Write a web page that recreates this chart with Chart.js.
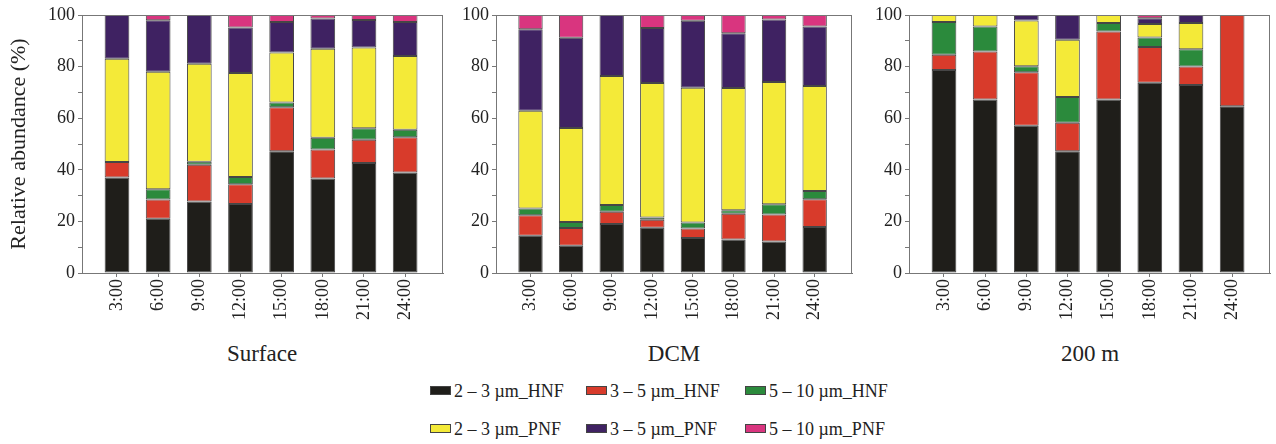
<!DOCTYPE html>
<html>
<head>
<meta charset="utf-8">
<script src="https://cdn.jsdelivr.net/npm/chart.js@4.4.1/dist/chart.umd.min.js"></script>
<style>
  body { margin: 0; background: #fff; }
  #wrap { position: relative; width: 1276px; height: 444px; background: #fff; font-family: "Liberation Serif", "DejaVu Serif", serif; color: #222; }
  .panel { position: absolute; top: 0; height: 340px; }
  .ptitle { position: absolute; top: 341px; font-size: 23px; text-align: center; width: 200px; }
  .leg { position: absolute; font-size: 18px; white-space: nowrap; }
  .leg i { display: inline-block; width: 19px; height: 7px; border: 1px solid #444; vertical-align: middle; margin-right: 3px; position: relative; top: -2px; }
</style>
</head>
<body>
<div id="wrap">
  <div class="panel" style="left:0;width:446px"><canvas id="c1"></canvas></div>
  <div class="panel" style="left:455px;width:400px"><canvas id="c2"></canvas></div>
  <div class="panel" style="left:868px;width:405px"><canvas id="c3"></canvas></div>
  <div class="ptitle" style="left:162px">Surface</div>
  <div class="ptitle" style="left:574px">DCM</div>
  <div class="ptitle" style="left:990px">200 m</div>
  <div id="legend"></div>
</div>
<script>
// time of day (x tick labels)
const times = ['3:00', '6:00', '9:00', '12:00', '15:00', '18:00', '21:00', '24:00'];
const seriesNames = ['2 – 3 µm_HNF', '3 – 5 µm_HNF', '5 – 10 µm_HNF', '2 – 3 µm_PNF', '3 – 5 µm_PNF', '5 – 10 µm_PNF'];
const colors = ['#1f1e1a', '#d83b2b', '#2b8a3c', '#f4ea38', '#3f2262', '#d9357f'];
const yTicks = [0, 20, 40, 60, 80, 100];

// Surface
const surfHnf23 = [37, 21, 27.7, 26.7, 47.2, 36.6, 42.6, 39];
const surfHnf35 = [6, 7.5, 14.3, 7.7, 17, 11.3, 9, 13.6];
const surfHnf510 = [0, 4, 1.1, 2.8, 1.9, 4.5, 4.5, 2.9];
const surfPnf23 = [40, 45.5, 38, 40.3, 19.4, 34.5, 31.3, 28.6];
const surfPnf35 = [17, 20, 18.9, 17.7, 11.8, 11.7, 10.7, 13.2];
const surfPnf510 = [0, 2, 0, 4.8, 2.7, 1.4, 1.9, 2.7];

// DCM
const dcmHnf23 = [14.4, 10.6, 19, 17.5, 13.6, 13, 12.2, 17.8];
const dcmHnf35 = [8, 6.8, 4.7, 3.1, 3.6, 10, 10.5, 10.8];
const dcmHnf510 = [2.6, 2.4, 2.7, 0.9, 2.4, 1.3, 3.9, 3.2];
const dcmPnf23 = [37.9, 36.4, 50, 52.1, 52.2, 47.4, 47.4, 40.7];
const dcmPnf35 = [31.6, 35, 23.6, 21.4, 26, 21.2, 24.3, 23];
const dcmPnf510 = [5.5, 8.8, 0, 5, 2.2, 7.1, 1.7, 4.5];

// 200 m
const deepHnf23 = [78.7, 67.2, 57.1, 47.2, 67.2, 73.7, 72.9, 64.6];
const deepHnf35 = [5.9, 18.7, 20.7, 11, 26.4, 13.9, 7.1, 35.4];
const deepHnf510 = [12.7, 9.6, 2.3, 10, 3.3, 3.7, 6.7, 0];
const deepPnf23 = [2.7, 4.5, 17.8, 22.2, 3.1, 5.2, 10.2, 0];
const deepPnf35 = [0, 0, 2.1, 9.6, 0, 2.2, 3.1, 0];
const deepPnf510 = [0, 0, 0, 0, 0, 1.3, 0, 0];

const frame = {
  id: 'frame',
  afterDraw(chart) {
    const a = chart.chartArea, ctx = chart.ctx;
    ctx.save();
    ctx.strokeStyle = '#777';
    ctx.lineWidth = 1;
    ctx.strokeRect(a.left + 0.5, a.top + 0.5, a.right - a.left - 1, a.bottom - a.top);
    ctx.restore();
  }
};

function makeChart(id, series, yWidth, showTitle) {
  const datasets = series.map((vals, k) => ({
    label: seriesNames[k],
    data: vals.map((v, i) => ({ x: i + 1, y: v === 0 ? null : v })),
    backgroundColor: colors[k],
    borderColor: 'rgba(50,50,50,0.9)',
    borderWidth: 1,
    borderSkipped: false,
    categoryPercentage: 1,
    barPercentage: 0.6
  }));
  return new Chart(document.getElementById(id), {
    type: 'bar',
    data: { datasets },
    plugins: [frame],
    options: {
      responsive: true,
      maintainAspectRatio: false,
      animation: false,
      layout: { padding: { top: 15, right: 3, left: 0, bottom: 0 } },
      plugins: { legend: { display: false }, tooltip: { enabled: false } },
      scales: {
        x: {
          type: 'linear',
          stacked: true,
          offset: false,
          min: 0.15,
          max: 8.92,
          afterBuildTicks: s => { s.ticks = times.map((t, i) => ({ value: i + 1 })); },
          afterFit: s => { s.height = 67; },
          grid: { drawOnChartArea: false, tickLength: 4, color: '#777', offset: false },
          border: { color: '#777' },
          ticks: {
            autoSkip: false,
            minRotation: 90,
            maxRotation: 90,
            padding: 2,
            color: '#222',
            font: { family: 'Liberation Serif', size: 18 },
            callback: v => times[v - 1] || ''
          }
        },
        y: {
          stacked: true,
          min: 0,
          max: 100,
          afterBuildTicks: s => { s.ticks = [0, 10, 20, 30, 40, 50, 60, 70, 80, 90, 100].map(v => ({ value: v })); },
          afterFit: s => { s.width = yWidth; },
          grid: { drawOnChartArea: false, tickLength: 4, color: '#777' },
          border: { color: '#777' },
          title: {
            display: showTitle,
            text: 'Relative abundance (%)',
            color: '#222',
            font: { family: 'Liberation Serif', size: 22 },
            padding: { top: 6, bottom: 0 }
          },
          ticks: {
            padding: 3,
            color: '#222',
            font: { family: 'Liberation Serif', size: 18 },
            callback: v => yTicks.includes(v) ? v : ''
          }
        }
      }
    }
  });
}

makeChart('c1', [surfHnf23, surfHnf35, surfHnf510, surfPnf23, surfPnf35, surfPnf510], 82, true);
makeChart('c2', [dcmHnf23, dcmHnf35, dcmHnf510, dcmPnf23, dcmPnf35, dcmPnf510], 41, false);
makeChart('c3', [deepHnf23, deepHnf35, deepHnf510, deepPnf23, deepPnf35, deepPnf510], 41, false);

// legend (two rows of three)
const legX = [430, 586, 745];
const legY = [381, 419];
const legend = document.getElementById('legend');
seriesNames.forEach((name, k) => {
  const d = document.createElement('div');
  d.className = 'leg';
  d.style.left = legX[k % 3] + 'px';
  d.style.top = legY[Math.floor(k / 3)] + 'px';
  d.innerHTML = '<i style="background:' + colors[k] + '"></i>' + name;
  legend.appendChild(d);
});
</script>
</body>
</html>
